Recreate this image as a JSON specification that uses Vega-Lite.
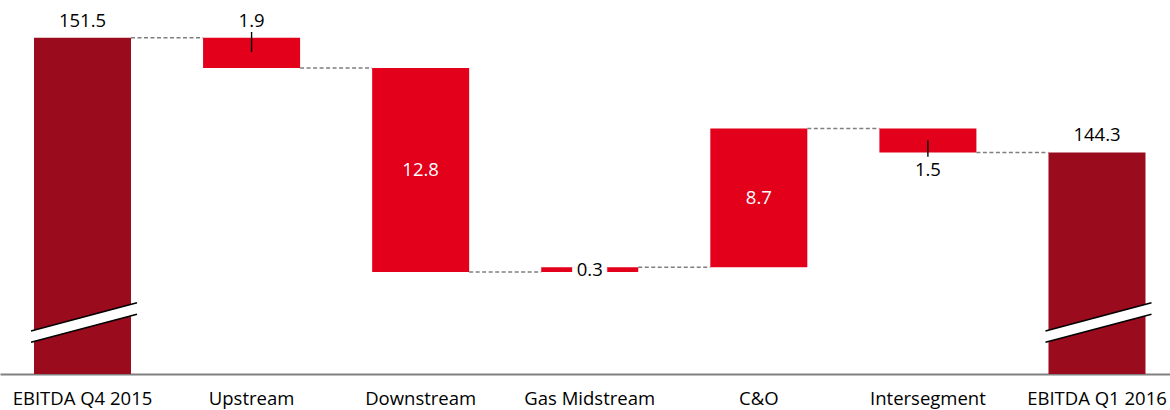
{
  "$schema": "https://vega.github.io/schema/vega-lite/v6.json",
  "width": 1170,
  "height": 374,
  "padding": {"left": 0, "top": 0, "right": 0, "bottom": 36},
  "autosize": {"type": "none"},
  "background": "white",
  "config": {
    "view": {"stroke": null},
    "font": "Open Sans",
    "text": {"font": "Open Sans", "fontSize": 18.5}
  },
  "data": {
    "values": [
      {"cat": "EBITDA Q4 2015", "type": "total", "start": 151.5, "end": 151.5, "label": "151.5", "next": "Upstream"},
      {"cat": "Upstream", "type": "delta", "start": 151.5, "end": 149.6, "label": "1.9", "next": "Downstream"},
      {"cat": "Downstream", "type": "delta", "start": 149.6, "end": 136.8, "label": "12.8", "next": "Gas Midstream"},
      {"cat": "Gas Midstream", "type": "delta", "start": 136.8, "end": 137.1, "label": "0.3", "next": "C&O"},
      {"cat": "C&O", "type": "delta", "start": 137.1, "end": 145.8, "label": "8.7", "next": "Intersegment"},
      {"cat": "Intersegment", "type": "delta", "start": 145.8, "end": 144.3, "label": "1.5", "next": "EBITDA Q1 2016"},
      {"cat": "EBITDA Q1 2016", "type": "total", "start": 144.3, "end": 144.3, "label": "144.3", "next": null}
    ]
  },
  "encoding": {
    "x": {
      "field": "cat",
      "type": "nominal",
      "sort": null,
      "scale": {"paddingInner": 0.4263, "paddingOuter": 0.173, "align": 0.581},
      "axis": {
        "title": null,
        "labelAngle": 0,
        "ticks": false,
        "labelFont": "Open Sans",
        "labelFontSize": 18.5,
        "labelColor": "#000000",
        "labelPadding": 15,
        "labelOverlap": false,
        "domainColor": "#808080",
        "domainWidth": 2,
        "grid": false
      }
    }
  },
  "layer": [
    {
      "transform": [{"filter": "datum.next != null"}],
      "mark": {"type": "rule", "xOffset": 48.5, "x2Offset": -48.5, "stroke": "#7f7f7f", "strokeWidth": 1.6, "strokeDash": [4, 2.5]},
      "encoding": {
        "x2": {"field": "next"},
        "y": {"field": "end", "type": "quantitative", "scale": {"domain": [130.4, 153.865], "zero": false, "nice": false}, "axis": null}
      }
    },
    {
      "transform": [{"filter": "datum.type === 'total'"}],
      "mark": {"type": "bar", "color": "#9b0b1e"},
      "encoding": {
        "y": {"field": "end", "type": "quantitative"},
        "y2": {"datum": 130.4}
      }
    },
    {
      "transform": [{"filter": "datum.type === 'delta'"}],
      "mark": {"type": "bar", "color": "#e2001a"},
      "encoding": {
        "y": {"field": "start", "type": "quantitative"},
        "y2": {"field": "end"}
      }
    },
    {
      "transform": [{"filter": "datum.type === 'total'"}],
      "mark": {"type": "rule", "xOffset": -51.5, "x2Offset": 54.5, "stroke": "white", "strokeWidth": 11, "strokeCap": "butt"},
      "encoding": {
        "x2": {"field": "cat"},
        "y": {"datum": 132.745},
        "y2": {"datum": 134.51}
      }
    },
    {
      "transform": [{"filter": "datum.type === 'total'"}],
      "mark": {"type": "rule", "xOffset": -51.5, "x2Offset": 54.5, "stroke": "#000000", "strokeWidth": 1.6},
      "encoding": {
        "x2": {"field": "cat"},
        "y": {"datum": 133.1},
        "y2": {"datum": 134.876}
      }
    },
    {
      "transform": [{"filter": "datum.type === 'total'"}],
      "mark": {"type": "rule", "xOffset": -51.5, "x2Offset": 54.5, "stroke": "#000000", "strokeWidth": 1.6},
      "encoding": {
        "x2": {"field": "cat"},
        "y": {"datum": 132.39},
        "y2": {"datum": 134.147}
      }
    },
    {
      "transform": [{"filter": "datum.cat === 'Gas Midstream'"}],
      "mark": {"type": "bar", "color": "white", "width": 34, "stroke": "white", "strokeWidth": 1},
      "encoding": {
        "y": {"field": "start", "type": "quantitative"},
        "y2": {"field": "end"}
      }
    },
    {
      "transform": [{"filter": "datum.cat === 'Upstream'"}],
      "mark": {"type": "rule", "yOffset": -5.7, "y2Offset": 14.3, "stroke": "#000000", "strokeWidth": 1.4},
      "encoding": {
        "y": {"field": "start", "type": "quantitative"},
        "y2": {"field": "start"}
      }
    },
    {
      "transform": [{"filter": "datum.cat === 'Intersegment'"}],
      "mark": {"type": "rule", "yOffset": -12.3, "y2Offset": 4.4, "stroke": "#000000", "strokeWidth": 1.4},
      "encoding": {
        "y": {"field": "end", "type": "quantitative"},
        "y2": {"field": "end"}
      }
    },
    {
      "transform": [{"filter": {"field": "cat", "oneOf": ["EBITDA Q4 2015", "Upstream", "EBITDA Q1 2016"]}}],
      "mark": {"type": "text", "baseline": "middle", "dy": -17, "color": "#000000"},
      "encoding": {
        "y": {"field": "start", "type": "quantitative"},
        "text": {"field": "label"}
      }
    },
    {
      "transform": [{"filter": "datum.cat === 'Intersegment'"}],
      "mark": {"type": "text", "baseline": "middle", "dy": 18, "color": "#000000"},
      "encoding": {
        "y": {"field": "end", "type": "quantitative"},
        "text": {"field": "label"}
      }
    },
    {
      "transform": [
        {"filter": {"field": "cat", "oneOf": ["Downstream", "Gas Midstream", "C&O"]}},
        {"fold": ["start", "end"], "as": ["edge", "v"]},
        {"aggregate": [{"op": "mean", "field": "v", "as": "mid"}], "groupby": ["cat", "label"]}
      ],
      "mark": {"type": "text", "baseline": "middle"},
      "encoding": {
        "y": {"field": "mid", "type": "quantitative"},
        "text": {"field": "label"},
        "color": {"condition": {"test": "datum.cat === 'Gas Midstream'", "value": "#000000"}, "value": "#ffffff"}
      }
    }
  ]
}
